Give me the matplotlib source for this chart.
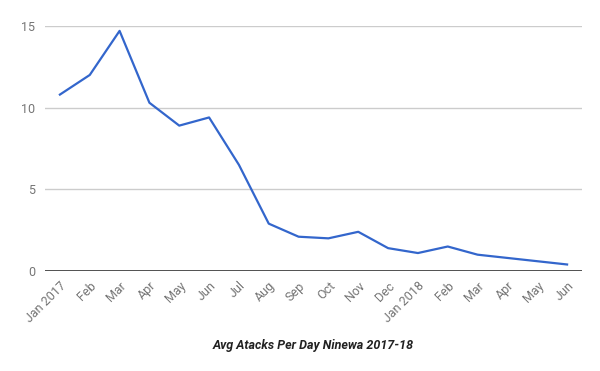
import matplotlib.pyplot as plt

months = ['Jan 2017', 'Feb', 'Mar', 'Apr', 'May', 'Jun', 'Jul', 'Aug', 'Sep',
          'Oct', 'Nov', 'Dec', 'Jan 2018', 'Feb', 'Mar', 'Apr', 'May', 'Jun']
attacks = [10.8, 12.0, 14.7, 10.3, 8.9, 9.4, 6.5, 2.9, 2.1,
           2.0, 2.4, 1.4, 1.1, 1.5, 1.0, 0.8, 0.6, 0.4]
yticks = [0, 5, 10, 15]

plt.rcParams['font.family'] = ['Roboto', 'DejaVu Sans']

fig = plt.figure(figsize=(6, 3.71), dpi=100)
ax = fig.add_axes([0.075, 0.2695, 0.895, 0.6605])

x = list(range(len(months)))
ax.plot(x, attacks, color='#3366cc', linewidth=1.6, solid_joinstyle='round')

ax.set_xlim(-0.5, len(months) - 0.5)
ax.set_ylim(0, 15)
ax.set_yticks(yticks)
ax.set_yticklabels([str(v) for v in yticks], color='#757575', fontsize=9)
ax.set_xticks(x)
ax.set_xticklabels(months, rotation=45, ha='right', rotation_mode='anchor',
                   color='#757575', fontsize=9)
ax.tick_params(length=0, pad=7)
ax.tick_params(axis='x', pad=6)

for v in yticks[1:]:
    ax.axhline(v, color='#cccccc', linewidth=1, zorder=0)
ax.axhline(0, color='#333333', linewidth=1.2, zorder=3)

for s in ax.spines.values():
    s.set_visible(False)

fig.text(0.522, 0.07, 'Avg Atacks Per Day Ninewa 2017-18', ha='center', va='center',
         fontsize=9, fontweight='bold', fontstyle='italic', color='#222222')

fig.savefig('out.png', dpi=100)
